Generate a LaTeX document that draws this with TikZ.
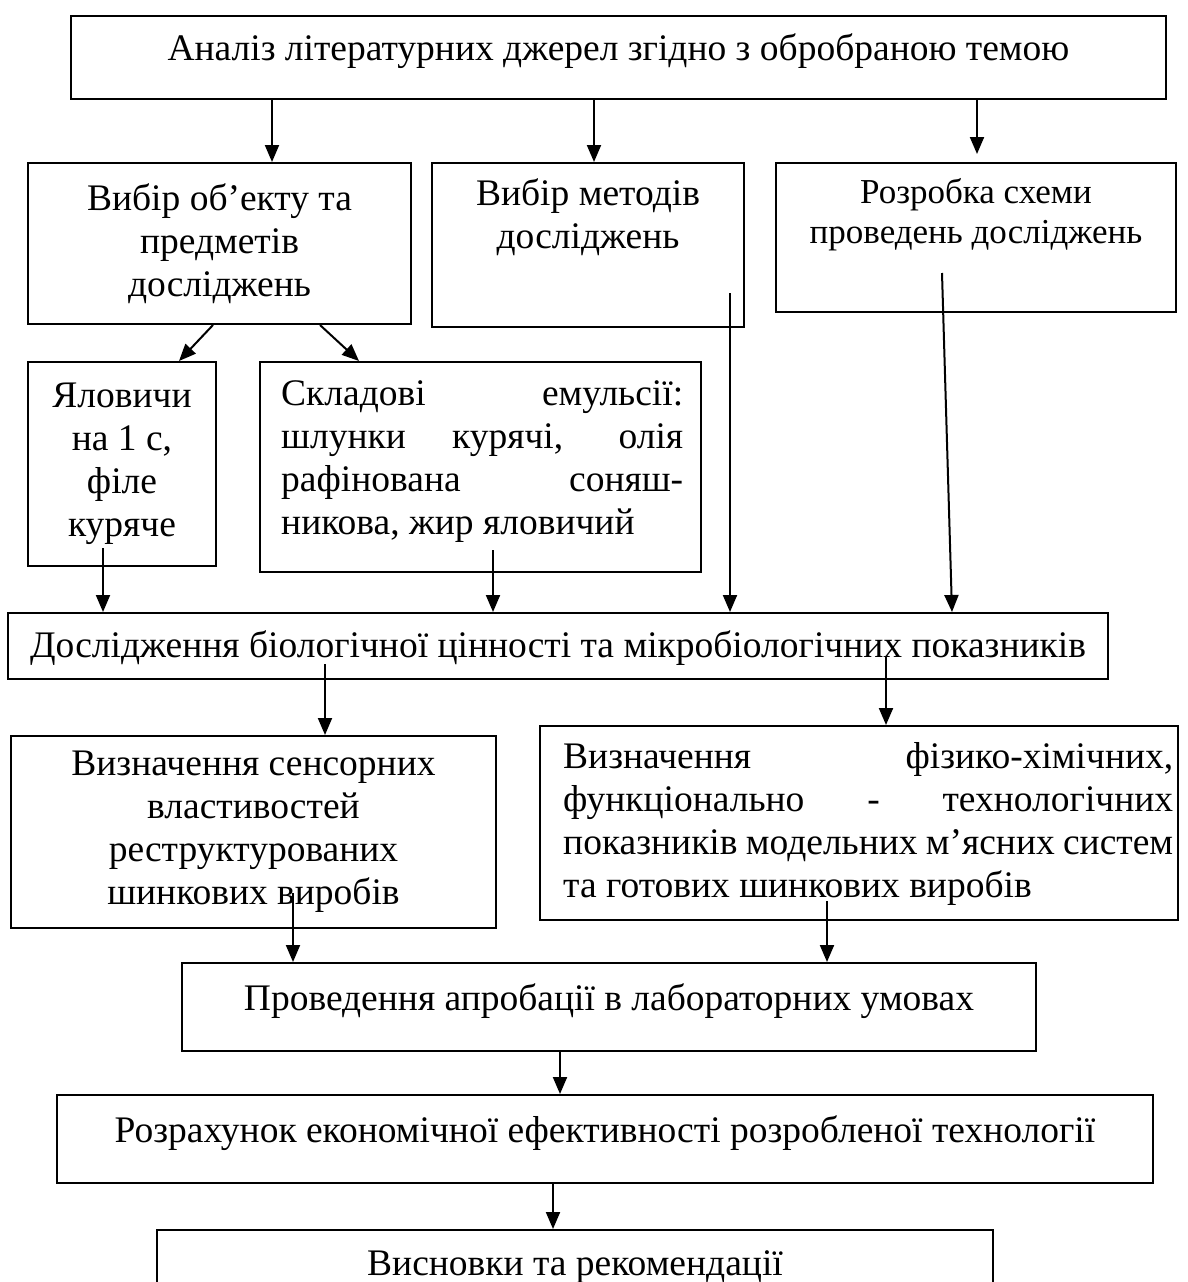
\documentclass[tikz,border=0pt]{standalone}
\usepackage{fontspec}
\setmainfont{Liberation Serif}
\usetikzlibrary{arrows.meta,positioning}

\tikzset{
  box/.style={draw=black, line width=2pt, rectangle, inner sep=0pt, align=center,
    font=\fontsize{37.5}{43}\selectfont},
  txt/.style={inner sep=0pt, font=\fontsize{37.5}{43}\selectfont},
  arr/.style={line width=2pt, -{Triangle[length=17pt,width=14pt]}}
}

\begin{document}
\begin{tikzpicture}[x=1pt, y=-1pt]
    \useasboundingbox (0,0) rectangle (1187,1282);
    \clip (0,0) rectangle (1187,1282);
    % boxes
    \node (top) [box, minimum width=1095pt, minimum height=83pt, text height=26pt, text depth=21pt] at (618.5,57.5) {Аналіз літературних джерел згідно з обробраною темою};
    \node (obj) [box, minimum width=383pt, minimum height=161pt] at (219.5,243.5) {Вибір об’екту та\\предметів\\досліджень};
    \node (meth) [box, minimum width=312pt, minimum height=164pt] at (588,245) {};
    \node (plan) [box, minimum width=400pt, minimum height=149pt] at (976,237.5) {};
    \node (yal) [box, minimum width=188pt, minimum height=204pt] at (122,464) {Яловичи\\на 1 с,\\філе\\куряче};
    \node (comp) [box, minimum width=441pt, minimum height=210pt] at (480.5,467) {};
    \node (bio) [box, minimum width=1100pt, minimum height=66pt, text height=26pt, text depth=4pt] at (558,646) {Дослідження біологічної цінності та мікробіологічних показників};
    \node (sens) [box, minimum width=485pt, minimum height=192pt] at (253.5,832) {Визначення сенсорних\\властивостей\\реструктурованих\\шинкових виробів};
    \node (phys) [box, minimum width=638pt, minimum height=194pt] at (859,823) {};
    \node (test) [box, minimum width=854pt, minimum height=88pt, text height=26pt, text depth=20pt] at (609,1007) {Проведення апробації в лабораторних умовах};
    \node (econ) [box, minimum width=1096pt, minimum height=88pt, text height=26pt, text depth=20pt] at (605,1139) {Розрахунок економічної ефективності розробленої технології};
    \node (concl) [box, minimum width=836pt, minimum height=90pt, text height=26pt, text depth=26pt] at (575,1275) {Висновки та рекомендації};
    % texts set at the top of their boxes
    \node (methtxt) [txt, align=center, below=16pt of meth.north] {Вибір методів\\досліджень};
    \node (plantxt) [txt, align=center, below=16pt of plan.north, font=\fontsize{35}{40}\selectfont] {Розробка схеми\\проведень досліджень};
    \node (comptxt) [txt, align=left, anchor=north west] at (281,380) {\makebox[402pt][s]{Складові емульсії:}\\\makebox[402pt][s]{шлунки курячі, олія}\\\makebox[402pt][s]{рафінована соняш-}\\никова, жир яловичий};
    \node (phystxt) [txt, align=left, anchor=north west] at (563,742) {\makebox[610pt][s]{Визначення фізико-хімічних,}\\\makebox[610pt][s]{функціонально - технологічних}\\\makebox[610pt][s]{показників модельних м’ясних систем}\\та готових шинкових виробів};
    % arrows
    \draw [arr] (top.south -| 272,0) -- (obj.north -| 272,0);
    \draw [arr] (top.south -| 594,0) -- (meth.north -| 594,0);
    \draw [arr, shorten >=8pt] (top.south -| 977,0) -- (plan.north -| 977,0);
    \draw [arr] (obj.south -| 213,0) -- (yal.north -| 179,0);
    \draw [arr] (obj.south -| 320,0) -- (comp.north -| 359,0);
    \draw [arr] (yal.south -| 103,0) ++(0,-19) -- (bio.north -| 103,0);
    \draw [arr] (comp.south -| 493,0) ++(0,-23) -- (bio.north -| 493,0);
    \draw [arr] (meth.south -| 730,0) ++(0,-35) -- (bio.north -| 730,0);
    \draw [arr] (plan.south -| 942,0) ++(0,-40) -- (bio.north -| 952,0);
    \draw [arr] (bio.south -| 325,0) ++(0,-16) -- (sens.north -| 325,0);
    \draw [arr] (bio.south -| 886,0) ++(0,-24) -- (phys.north -| 886,0);
    \draw [arr] (sens.south -| 293,0) ++(0,-36) -- (test.north -| 293,0);
    \draw [arr] (phys.south -| 827,0) ++(0,-20) -- (test.north -| 827,0);
    \draw [arr] (test.south -| 560,0) -- (econ.north -| 560,0);
    \draw [arr] (econ.south -| 553,0) -- (concl.north -| 553,0);
\end{tikzpicture}
\end{document}
